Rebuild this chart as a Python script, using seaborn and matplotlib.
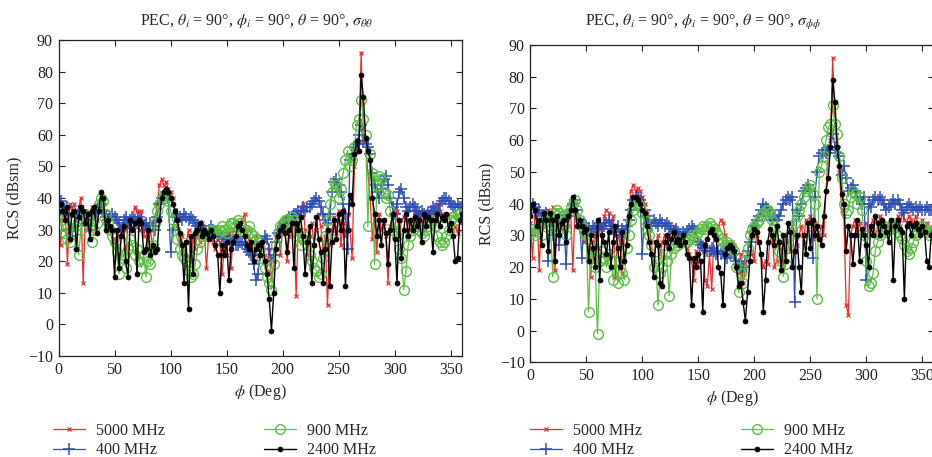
import matplotlib
matplotlib.use("Agg")
import matplotlib.pyplot as plt
import seaborn as sns

# ---------------- data (phi in degrees, RCS in dBsm) ----------------
phi = list(range(0, 361, 2))

# sigma_theta_theta (left panel)
tt_5000 = [33, 25, 38, 36, 19, 38, 36, 38, 35, 37,
           40, 13, 36, 34, 30, 37, 36, 33, 38, 40,
           39, 34, 31, 30, 26, 27, 22, 31, 28, 30,
           20, 33, 30, 33, 37, 36, 30, 36, 28, 31,
           25, 30, 24, 33, 38, 44, 46, 44, 45, 43,
           42, 40, 36, 31, 26, 28, 22, 26, 30, 20,
           27, 24, 29, 26, 32, 30, 18, 28, 30, 26,
           24, 28, 26, 16, 25, 22, 29, 18, 30, 31,
           30, 31, 33, 35, 30, 27, 25, 22, 28, 26,
           24, 25, 22, 17, 24, 14, 20, 28, 30, 22,
           31, 30, 20, 28, 33, 34, 9, 32, 36, 38,
           30, 22, 28, 32, 25, 30, 35, 31, 24, 28,
           6, 25, 30, 34, 29, 36, 25, 32, 28, 35,
           30, 21, 50, 55, 58, 86, 62, 57, 48, 40,
           27, 33, 23, 35, 30, 32, 28, 13, 31, 34,
           30, 36, 28, 33, 34, 35, 32, 30, 33, 36,
           34, 35, 33, 30, 34, 36, 35, 33, 37, 38,
           36, 35, 34, 33, 35, 32, 30, 31, 29, 32,
           34]
tt_400 = [38, 39, 37, 35, 37, 30, 28, 31, 34, 36,
          35, 36, 33, 31, 30, 33, 35, 36, 37, 38,
          36, 34, 33, 34, 35, 34, 33, 32, 30, 33,
          34, 32, 33, 34, 33, 32, 34, 33, 31, 32,
          30, 32, 31, 30, 34, 38, 40, 41, 42, 40,
          23, 30, 34, 35, 34, 33, 35, 34, 33, 34,
          33, 32, 31, 30, 31, 30, 29, 30, 31, 30,
          29, 28, 29, 28, 27, 28, 27, 26, 26, 25,
          25, 26, 26, 25, 24, 23, 22, 19, 14, 16,
          22, 26, 28, 27, 24, 20, 22, 26, 29, 30,
          31, 32, 33, 34, 34, 35, 35, 36, 36, 37,
          36, 37, 37, 38, 39, 40, 39, 37, 35, 33,
          32, 35, 42, 45, 46, 44, 42, 38, 35, 24,
          52, 54, 56, 57, 60, 63, 58, 57, 56, 54,
          48, 44, 42, 40, 43, 46, 47, 44, 40, 37,
          35, 38, 42, 43, 40, 37, 36, 37, 38, 37,
          36, 35, 36, 35, 34, 35, 36, 37, 36, 35,
          38, 39, 40, 40, 39, 38, 37, 37, 38, 37,
          37]
tt_900 = [35, 33, 31, 29, 27, 26, 29, 33, 31, 22,
          30, 33, 35, 34, 31, 26, 30, 32, 38, 40,
          39, 35, 32, 30, 28, 26, 23, 16, 21, 22,
          18, 24, 27, 25, 22, 24, 20, 18, 22, 15,
          20, 19, 25, 32, 36, 38, 40, 41, 40, 39,
          36, 33, 30, 27, 24, 22, 21, 20, 17, 15,
          16, 19, 24, 26, 28, 29, 28, 30, 29, 30,
          30, 29, 30, 31, 30, 29, 31, 32, 32, 31,
          33, 32, 30, 29, 30, 31, 29, 28, 27, 26,
          24, 21, 18, 15, 13, 11, 19, 25, 29, 31,
          32, 33, 33, 32, 34, 33, 30, 28, 25, 27,
          28, 25, 22, 20, 18, 17, 15, 16, 21, 28,
          33, 38, 42, 45, 44, 40, 43, 48, 52, 55,
          50, 52, 56, 63, 65, 71, 65, 60, 31, 54,
          48, 19, 44, 47, 46, 42, 40, 41, 36, 30,
          32, 28, 24, 21, 11, 17, 25, 28, 30, 32,
          31, 30, 29, 28, 30, 31, 32, 33, 31, 28,
          26, 25, 26, 28, 30, 33, 34, 33, 35, 35,
          34]
tt_2400 = [36, 38, 36, 33, 37, 27, 35, 36, 24, 34,
           37, 36, 32, 35, 27, 36, 37, 29, 36, 42,
           40, 30, 33, 31, 30, 15, 30, 18, 28, 31,
           20, 15, 33, 30, 32, 16, 33, 32, 23, 24,
           30, 22, 25, 23, 24, 33, 40, 42, 43, 42,
           40, 38, 36, 33, 29, 25, 13, 26, 5, 28,
           16, 29, 30, 32, 28, 30, 29, 27, 30, 28,
           25, 22, 10, 25, 22, 26, 14, 24, 26, 28,
           31, 32, 30, 28, 25, 24, 26, 20, 24, 25,
           22, 26, 20, 16, 8, -2, 10, 24, 28, 30,
           31, 29, 23, 30, 32, 18, 32, 30, 34, 28,
           16, 26, 31, 13, 25, 34, 27, 23, 13, 24,
           30, 12, 26, 33, 27, 35, 30, 36, 12, 30,
           41, 38, 54, 58, 55, 79, 72, 59, 55, 52,
           40, 35, 28, 33, 25, 33, 29, 19, 30, 35,
           27, 13, 33, 21, 30, 35, 28, 33, 30, 34,
           31, 33, 26, 35, 31, 34, 33, 23, 33, 35,
           31, 34, 33, 35, 30, 32, 28, 20, 21, 33,
           35]

# sigma_phi_phi (right panel)
pp_5000 = [34, 23, 36, 38, 19, 37, 35, 36, 38, 34,
           39, 19, 36, 34, 32, 37, 36, 33, 38, 19,
           40, 36, 33, 30, 28, 30, 26, 17, 28, 30,
           26, 33, 30, 36, 38, 37, 32, 36, 17, 30,
           28, 18, 30, 34, 38, 44, 46, 44, 45, 44,
           42, 40, 37, 33, 28, 22, 27, 30, 24, 28,
           30, 26, 29, 31, 33, 30, 28, 27, 30, 28,
           26, 24, 22, 16, 25, 20, 28, 27, 16, 14,
           24, 13, 30, 32, 33, 35, 34, 30, 27, 26,
           28, 27, 22, 18, 24, 15, 19, 24, 30, 24,
           22, 30, 28, 24, 20, 22, 21, 28, 30, 20,
           22, 28, 26, 20, 30, 28, 25, 33, 31, 27,
           30, 33, 28, 35, 32, 36, 29, 34, 32, 30,
           33, 30, 44, 56, 60, 86, 65, 58, 50, 38,
           36, 8, 5, 30, 33, 35, 31, 34, 30, 32,
           34, 31, 33, 35, 30, 32, 36, 33, 34, 31,
           33, 35, 32, 34, 36, 33, 37, 35, 34, 36,
           35, 33, 36, 34, 32, 35, 33, 34, 30, 32,
           33]
pp_400 = [40, 40, 39, 37, 38, 36, 35, 37, 22, 33,
          30, 33, 34, 27, 35, 33, 21, 36, 38, 40,
          41, 38, 35, 23, 34, 33, 32, 31, 33, 32,
          33, 34, 32, 33, 34, 35, 33, 32, 31, 33,
          30, 32, 31, 33, 35, 38, 41, 42, 42, 41,
          24, 38, 36, 34, 33, 35, 34, 33, 35, 34,
          33, 34, 33, 32, 31, 32, 31, 30, 31, 30,
          31, 32, 33, 32, 31, 28, 27, 26, 26, 25,
          25, 26, 25, 24, 25, 24, 25, 24, 23, 24,
          25, 24, 22, 21, 19, 20, 22, 25, 28, 31,
          33, 35, 36, 38, 40, 39, 38, 36, 35, 36,
          35, 36, 38, 40, 41, 42, 41, 42, 9, 38,
          36, 40, 44, 45, 46, 44, 23, 42, 50, 55,
          56, 57, 56, 57, 58, 62, 58, 56, 55, 49,
          52, 48, 44, 45, 46, 44, 42, 41, 40, 42,
          16, 40, 39, 41, 42, 41, 42, 41, 40, 38,
          39, 40, 41, 40, 41, 40, 38, 37, 39, 40,
          39, 38, 39, 38, 39, 38, 38, 39, 38, 38,
          38]
pp_900 = [31, 32, 30, 31, 33, 30, 34, 35, 36, 33,
          17, 37, 38, 37, 36, 33, 30, 37, 39, 40,
          41, 38, 35, 33, 31, 30, 6, 26, 23, 20,
          -1, 22, 25, 23, 20, 24, 22, 16, 22, 15,
          22, 18, 16, 26, 30, 35, 38, 40, 40, 39,
          37, 35, 32, 30, 27, 20, 22, 8, 18, 20,
          24, 22, 11, 24, 26, 28, 27, 28, 29, 28,
          28, 29, 30, 29, 30, 31, 32, 33, 32, 33,
          34, 33, 32, 31, 30, 29, 28, 27, 28, 27,
          26, 25, 20, 12, 18, 15, 22, 26, 30, 32,
          33, 34, 35, 36, 37, 38, 38, 37, 35, 33,
          30, 25, 22, 17, 21, 26, 30, 32, 34, 36,
          38, 40, 42, 44, 45, 46, 43, 40, 10, 50,
          52, 55, 60, 64, 65, 71, 65, 62, 55, 48,
          40, 37, 38, 42, 44, 43, 40, 42, 38, 30,
          22, 14, 15, 18, 25, 28, 30, 32, 33, 31,
          32, 33, 34, 33, 31, 30, 29, 27, 25, 24,
          26, 28, 30, 31, 32, 33, 32, 31, 30, 31,
          32]
pp_2400 = [36, 40, 38, 33, 35, 27, 37, 35, 25, 37,
           35, 22, 36, 30, 34, 35, 28, 36, 38, 42,
           38, 33, 35, 33, 31, 32, 22, 30, 26, 20,
           35, 16, 30, 28, 24, 31, 20, 28, 33, 26,
           20, 31, 22, 27, 36, 40, 42, 42, 41, 40,
           38, 37, 33, 28, 24, 17, 28, 27, 15, 14,
           28, 30, 26, 29, 31, 28, 29, 27, 30, 28,
           24, 23, 8, 23, 20, 24, 22, 6, 27, 29,
           31, 32, 30, 29, 20, 18, 8, 24, 26, 27,
           26, 25, 20, 14, 15, 9, 3, 12, 22, 30,
           32, 31, 28, 24, 6, 16, 28, 32, 30, 27,
           33, 28, 19, 30, 22, 34, 31, 20, 25, 30,
           20, 12, 30, 24, 34, 26, 35, 30, 33, 29,
           27, 36, 44, 48, 58, 79, 72, 58, 52, 43,
           40, 25, 33, 30, 21, 30, 35, 22, 32, 30,
           27, 20, 33, 30, 36, 34, 30, 35, 33, 31,
           28, 35, 16, 33, 35, 32, 31, 10, 33, 34,
           30, 33, 34, 32, 30, 33, 31, 22, 20, 30,
           33]

labels = ["5000 MHz", "400 MHz", "900 MHz", "2400 MHz"]
x_ticks = [0, 50, 100, 150, 200, 250, 300, 350]
y_ticks = [-10, 0, 10, 20, 30, 40, 50, 60, 70, 80, 90]
titles = [r"PEC, $\theta_i$ = 90°, $\phi_i$ = 90°, $\theta$ = 90°, $\sigma_{\theta\theta}$",
          r"PEC, $\theta_i$ = 90°, $\phi_i$ = 90°, $\theta$ = 90°, $\sigma_{\phi\phi}$"]

# ---------------- styling ----------------
sns.set_style("ticks")
plt.rcParams["font.family"] = ["Liberation Serif", "DejaVu Serif"]
plt.rcParams["mathtext.fontset"] = "stix"
plt.rcParams["xtick.direction"] = "in"
plt.rcParams["ytick.direction"] = "in"

styles = [
    dict(color="#f02a2a", marker="x", markersize=3.5, markeredgewidth=0.9,
         markeredgecolor="#f02a2a", markerfacecolor="#f02a2a", linewidth=0.9),
    dict(color="#2c4db5", marker="+", markersize=9, markeredgewidth=1.1,
         markeredgecolor="#2c4db5", markerfacecolor="#2c4db5", linewidth=0.9),
    dict(color="#5cbf44", marker="o", markersize=7, markeredgewidth=1.0,
         markeredgecolor="#5cbf44", markerfacecolor="none", linewidth=0.9),
    dict(color="black", marker="o", markersize=3.6, markeredgewidth=0.5,
         markeredgecolor="black", markerfacecolor="black", linewidth=1.0),
]

W, H = 932, 457
fig = plt.figure(figsize=(W / 100, H / 100), dpi=100)
axL = fig.add_axes([58.5 / W, 1 - 356 / H, (462 - 58.5) / W, 316 / H])
axR = fig.add_axes([530.3 / W, 1 - 362.3 / H, (933.5 - 530.3) / W, 317.3 / H])

panels = [
    (axL, [tt_5000, tt_400, tt_900, tt_2400], 257, 21.5, 53, titles[0]),
    (axR, [pp_5000, pp_400, pp_900, pp_2400], 703, 22.5, 530, titles[1]),
]

for ax, series, tx, ty, lx, title in panels:
    for vals, lab, st in zip(series, labels, styles):
        sns.lineplot(x=phi, y=vals, ax=ax, label=lab, sort=False, **st)
    ax.set_xlim(0, 360)
    ax.set_ylim(-10, 90)
    ax.set_xticks(x_ticks)
    ax.set_yticks(y_ticks)
    ax.tick_params(which="both", top=True, right=True, length=4.5, width=0.8,
                   labelsize=11.5, pad=4, colors="#222222")
    for sp in ax.spines.values():
        sp.set_linewidth(0.9)
        sp.set_color("#222222")
    ax.set_xlabel(r"$\phi$ (Deg)", fontsize=11.5, labelpad=3)
    ax.set_ylabel("RCS (dBsm)", fontsize=11.5, labelpad=4)
    fig.text(tx / W, 1 - ty / H, title, ha="center", va="center", fontsize=11.5)
    h, l = ax.get_legend_handles_labels()
    ax.legend(h, l, ncol=2, loc="upper left", frameon=False,
              bbox_to_anchor=(lx / W, 1 - 423 / H), bbox_transform=fig.transFigure,
              borderaxespad=0, borderpad=0, fontsize=11.5, handlelength=2.0,
              handletextpad=0.7, columnspacing=6.2, labelspacing=0.2)

fig.savefig("out.png", dpi=100)
